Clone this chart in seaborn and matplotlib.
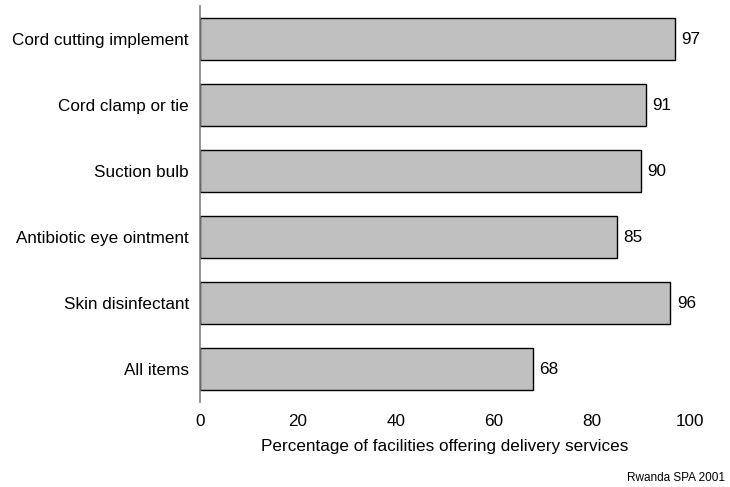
import matplotlib
matplotlib.use("Agg")
import matplotlib.pyplot as plt
import seaborn as sns
import pandas as pd

items = [
    "Cord cutting implement",
    "Cord clamp or tie",
    "Suction bulb",
    "Antibiotic eye ointment",
    "Skin disinfectant",
    "All items",
]
percentages = [97, 91, 90, 85, 96, 68]
x_ticks = [0, 20, 40, 60, 80, 100]

df = pd.DataFrame({"item": items, "pct": percentages})

sns.set_theme(style="white")
plt.rcParams["font.family"] = ["Liberation Sans", "DejaVu Sans"]
plt.rcParams["text.color"] = "black"
plt.rcParams["xtick.color"] = "black"
plt.rcParams["ytick.color"] = "black"
plt.rcParams["axes.labelcolor"] = "black"

FS = 12.3

fig = plt.figure(figsize=(7.3, 4.87), dpi=100)
ax = fig.add_axes([200 / 730, 1 - 402 / 487, 490 / 730, 396 / 487])

sns.barplot(data=df, x="pct", y="item", orient="h", order=items,
            color="#c0c0c0", saturation=1, edgecolor="black",
            linewidth=1.0, width=0.65, ax=ax)

for i, v in enumerate(percentages):
    ax.text(v + 1.3, i, f"{v}", va="center", ha="left", fontsize=FS, color="black")

ax.set_xlim(0, 100)
ax.set_ylim(5.5, -0.5)
ax.set_xticks(x_ticks)
ax.set_xticklabels([str(t) for t in x_ticks], fontsize=FS)
ax.tick_params(axis="x", length=0, pad=9, colors="black")
ax.tick_params(axis="y", length=0, pad=8, labelsize=FS, colors="black")
ax.set_ylabel("")
ax.set_xlabel("Percentage of facilities offering delivery services",
              fontsize=FS, labelpad=7, color="black")

for s in ["top", "right", "bottom"]:
    ax.spines[s].set_visible(False)
ax.spines["left"].set_color("#808080")
ax.spines["left"].set_linewidth(1.2)

fig.text(725 / 730, 1 - 478 / 487, "Rwanda SPA 2001", ha="right", va="center",
         fontsize=8.5, color="black")

fig.savefig("out.png", dpi=100)
